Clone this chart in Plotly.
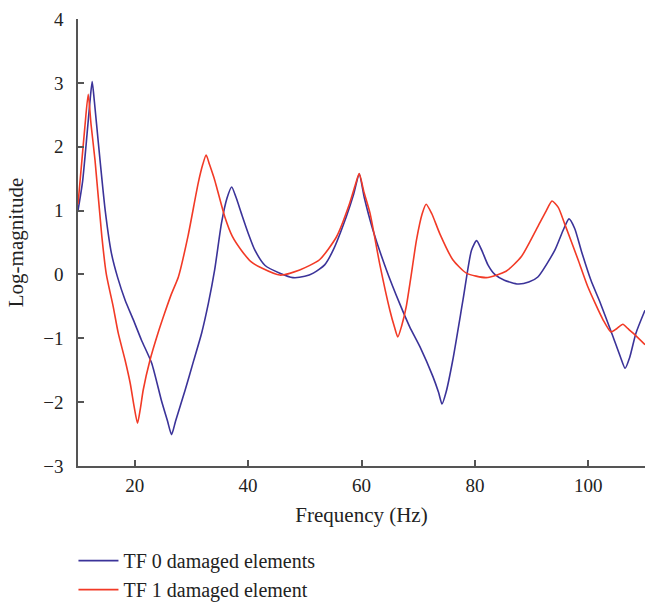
import plotly.graph_objects as go

# Transfer function log-magnitude, undamaged structure
freq_tf0 = [10, 10.8, 11.6, 12.1, 12.5, 12.9, 13.6, 14.8, 15.9, 17.0, 18.3, 19.8, 21.2, 23.0,
            24.7, 25.8, 26.5, 27.2, 28.9, 30.4, 31.8, 33.0, 34.1, 35.3, 36.3, 37.1, 37.9,
            38.8, 40.0, 41.2, 43.0, 45.6, 47.9, 50.0, 51.5, 53.5, 55.0, 57.3, 58.6, 59.6,
            60.5, 62.0, 64.4, 66.7, 68.5, 70.3, 72.6, 73.6, 74.2, 74.9, 76.1, 77.9, 79.4,
            80.3, 81.2, 82.3, 83.5, 85.2, 87.6, 89.5, 91.1, 94.1, 95.6, 96.6, 97.6, 98.8,
            100.5, 102.0, 104.3, 105.7, 106.5, 107.3, 108.4, 110]
mag_tf0 = [1.0, 1.45, 2.2, 2.7, 3.02, 2.7, 2.05, 1.0, 0.33, -0.05, -0.40, -0.72, -1.03, -1.39,
           -1.97, -2.3, -2.51, -2.3, -1.81, -1.35, -0.92, -0.45, 0.07, 0.80, 1.2, 1.37, 1.2,
           0.96, 0.65, 0.38, 0.14, 0.02, -0.05, -0.03, 0.02, 0.15, 0.38, 0.90, 1.25, 1.57,
           1.2, 0.70, 0.07, -0.45, -0.82, -1.13, -1.60, -1.85, -2.03, -1.85, -1.34, -0.40, 0.38,
           0.53, 0.38, 0.15, 0.0, -0.09, -0.15, -0.12, -0.04, 0.38, 0.70, 0.87, 0.72, 0.36,
           -0.10, -0.42, -0.96, -1.30, -1.47, -1.30, -0.92, -0.56]

# Transfer function log-magnitude, one damaged element
freq_tf1 = [10, 10.6, 11.2, 11.8, 12.3, 13.0, 14.2, 15.0, 16.2, 17.1, 18.3, 19.2, 19.9, 20.5,
            21.0, 21.5, 22.7, 24.1, 25.3, 26.5, 27.7, 29.4, 31.2, 32.0, 32.6, 33.2, 34.1,
            35.9, 37.2, 38.8, 40.5, 42.4, 45.6, 49.1, 52.6, 55.6, 57.9, 58.9, 59.6, 60.4,
            61.5, 63.2, 65.0, 65.8, 66.4, 67.1, 67.9, 68.7, 69.7, 70.7, 71.4, 72.4, 73.8,
            76.1, 78.5, 82.0, 85.5, 88.2, 91.1, 92.6, 93.6, 94.7, 95.8, 98.2, 99.9, 102.6,
            104.0, 105.0, 106.1, 107.0, 107.9, 110]
mag_tf1 = [1.1, 1.7, 2.3, 2.82, 2.35, 1.79, 0.6, 0.0, -0.5, -0.92, -1.34, -1.70, -2.07, -2.33,
           -2.1, -1.81, -1.34, -0.92, -0.6, -0.30, -0.04, 0.6, 1.43, 1.72, 1.87, 1.72, 1.48,
           0.90, 0.6, 0.38, 0.2, 0.10, -0.01, 0.07, 0.23, 0.59, 1.11, 1.4, 1.58, 1.3,
           0.96, 0.17, -0.56, -0.82, -0.98, -0.8, -0.50, -0.05, 0.54, 0.95, 1.10, 0.95, 0.64,
           0.23, 0.02, -0.05, 0.05, 0.28, 0.75, 1.0, 1.15, 1.05, 0.80, 0.23, -0.19, -0.71,
           -0.90, -0.85, -0.78, -0.85, -0.92, -1.10]

x_ticks = [20, 40, 60, 80, 100]
y_ticks = [-3, -2, -1, 0, 1, 2, 3, 4]

BLUE = "#3b3399"
RED = "#f23a26"
AXIS = "#555555"
FONT = "Liberation Serif"
TEXT = "#222222"

fig = go.Figure()
fig.add_trace(go.Scatter(x=freq_tf0, y=mag_tf0, mode="lines", name="TF 0 damaged elements",
                         line=dict(color=BLUE, width=1.6, shape="spline", smoothing=0.6)))
fig.add_trace(go.Scatter(x=freq_tf1, y=mag_tf1, mode="lines", name="TF 1 damaged element",
                         line=dict(color=RED, width=1.6, shape="spline", smoothing=0.6)))

fig.update_layout(
    width=646, height=604,
    margin=dict(l=78, r=1, t=19, b=138, autoexpand=False),
    paper_bgcolor="white", plot_bgcolor="white",
    font=dict(family=FONT, size=19, color=TEXT),
    showlegend=True,
    legend=dict(x=-0.008, y=-0.168, xanchor="left", yanchor="top",
                font=dict(family=FONT, size=20, color=TEXT),
                bgcolor="rgba(0,0,0,0)", tracegroupgap=0, itemwidth=40),
    xaxis=dict(range=[10, 110], tickvals=x_ticks, showgrid=False, zeroline=False,
               showline=True, linecolor=AXIS, linewidth=1.5, automargin=False,
               ticks="inside", ticklen=6, tickcolor=AXIS, tickwidth=1.5,
               ticklabelstandoff=1,
               title=dict(text="Frequency (Hz)", font=dict(size=21), standoff=13)),
    yaxis=dict(range=[-3, 4], tickvals=y_ticks, showgrid=False, zeroline=False,
               showline=True, linecolor=AXIS, linewidth=1.5, automargin=False,
               ticks="inside", ticklen=6, tickcolor=AXIS, tickwidth=1.5,
               ticklabelstandoff=9,
               title=dict(text="Log-magnitude", font=dict(size=21), standoff=14)),
)

fig.write_html("out.html")
